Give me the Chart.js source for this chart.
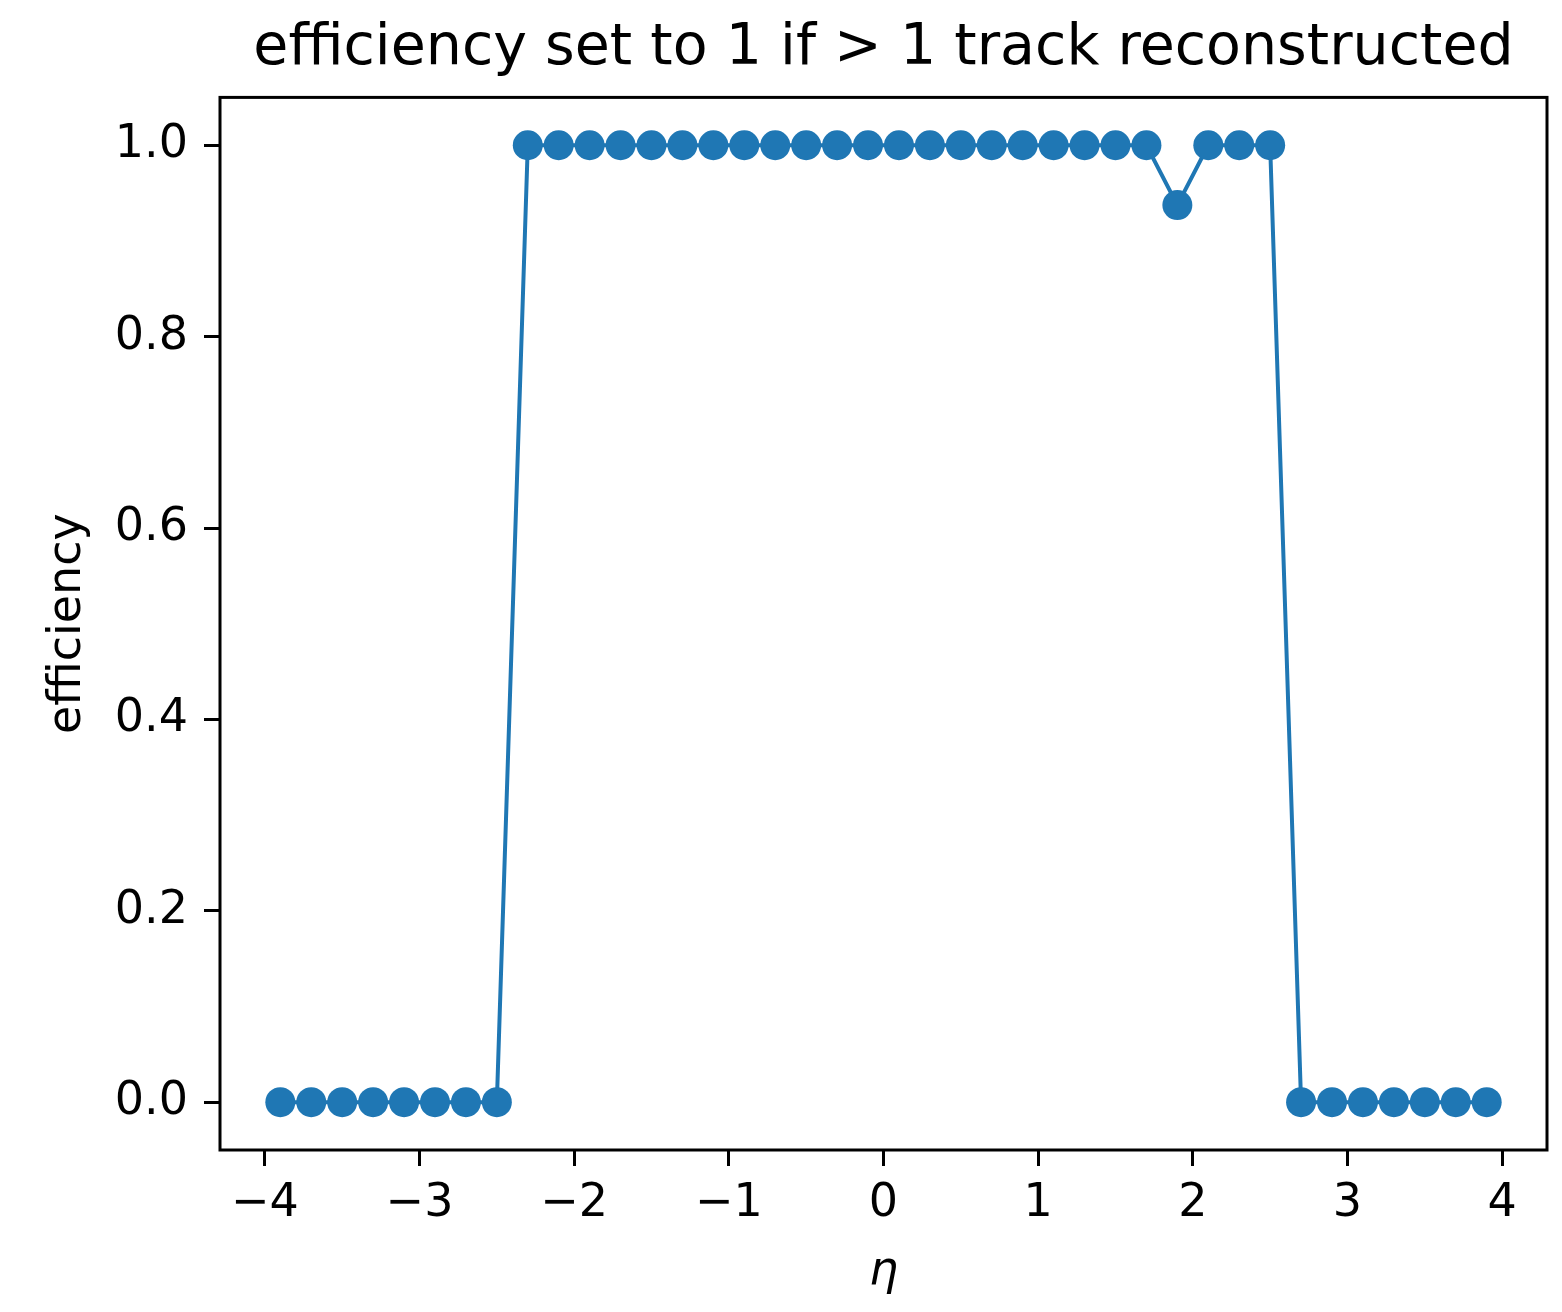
<!DOCTYPE html>
<html lang="en">
<head>
  <meta charset="UTF-8" />
  <title>Efficiency vs eta</title>
  <script src="https://cdn.jsdelivr.net/npm/chart.js"></script>
  <style>
    html, body { margin: 0; padding: 0; background: #fff; }
    canvas { display: block; }
  </style>
</head>
<body>
  <canvas id="effChart" width="1562" height="1312"></canvas>

  <script>
    // eta bin centres and the efficiency in each bin
    const etaValues = [
      -3.9, -3.7, -3.5, -3.3, -3.1, -2.9, -2.7, -2.5,
      -2.3, -2.1, -1.9, -1.7, -1.5, -1.3, -1.1, -0.9, -0.7, -0.5, -0.3, -0.1,
      0.1, 0.3, 0.5, 0.7, 0.9, 1.1, 1.3, 1.5, 1.7, 1.9,
      2.1, 2.3, 2.5, 2.7, 2.9, 3.1, 3.3, 3.5, 3.7, 3.9
    ];
    const efficiency = [
      0, 0, 0, 0, 0, 0, 0, 0,
      1, 1, 1, 1, 1, 1, 1, 1, 1, 1, 1, 1,
      1, 1, 1, 1, 1, 1, 1, 1, 1, 0.9375,
      1, 1, 1, 0, 0, 0, 0, 0, 0, 0
    ];
    const xTicks = [-4, -3, -2, -1, 0, 1, 2, 3, 4];
    const yTicks = [0, 0.2, 0.4, 0.6, 0.8, 1.0];

    const blue = '#1f77b4';
    const fontFamily = '"DejaVu Sans", sans-serif';

    // box around the axes (all four spines)
    const frame = {
      id: 'frame',
      afterDraw(chart) {
        const { ctx, chartArea: a } = chart;
        ctx.save();
        ctx.strokeStyle = '#000';
        ctx.lineWidth = 3;
        ctx.strokeRect(a.left, a.top, a.right - a.left, a.bottom - a.top);
        ctx.restore();
      }
    };

    const minus = v => (v < 0 ? '\u2212' + Math.abs(v) : String(v));

    new Chart(document.getElementById('effChart'), {
      type: 'scatter',
      data: {
        datasets: [{
          data: etaValues.map((x, i) => ({ x: x, y: efficiency[i] })),
          showLine: true,
          borderColor: blue,
          backgroundColor: blue,
          borderWidth: 4,
          pointRadius: 15,
          pointHoverRadius: 15,
          pointBorderWidth: 0,
          tension: 0
        }]
      },
      options: {
        responsive: false,
        animation: false,
        events: [],
        layout: { padding: { left: 0, right: 14, top: 0, bottom: 0 } },
        plugins: {
          legend: { display: false },
          tooltip: { enabled: false },
          title: {
            display: true,
            fullSize: false,
            text: 'efficiency set to 1 if > 1 track reconstructed',
            color: '#000',
            font: { family: fontFamily, size: 57, weight: 'normal', lineHeight: 1.2 },
            padding: { top: 15, bottom: 14 }
          }
        },
        scales: {
          x: {
            type: 'linear',
            min: -4.29,
            max: 4.29,
            afterBuildTicks: s => { s.ticks = xTicks.map(v => ({ value: v })); },
            afterFit: s => { s.height = 162; },
            border: { display: false },
            grid: { drawOnChartArea: false, tickLength: 16, tickWidth: 3, tickColor: '#000' },
            ticks: {
              color: '#000',
              padding: 10,
              maxRotation: 0,
              autoSkip: false,
              font: { family: fontFamily, size: 46 },
              callback: v => minus(v)
            },
            title: {
              display: true,
              text: 'η',
              color: '#000',
              font: { family: fontFamily, size: 46, style: 'italic', lineHeight: 1.2 },
              padding: { top: 0, bottom: 12 }
            }
          },
          y: {
            type: 'linear',
            min: -0.05,
            max: 1.05,
            afterBuildTicks: s => { s.ticks = yTicks.map(v => ({ value: v })); },
            afterFit: s => { s.width = 220; },
            border: { display: false },
            grid: { drawOnChartArea: false, tickLength: 16, tickWidth: 3, tickColor: '#000' },
            ticks: {
              color: '#000',
              padding: 16,
              autoSkip: false,
              font: { family: fontFamily, size: 46 },
              callback: v => v.toFixed(1)
            },
            title: {
              display: true,
              text: 'efficiency',
              color: '#000',
              font: { family: fontFamily, size: 46, lineHeight: 1.2 },
              padding: { top: 40, bottom: 0 }
            }
          }
        }
      },
      plugins: [frame]
    });
  </script>
</body>
</html>
